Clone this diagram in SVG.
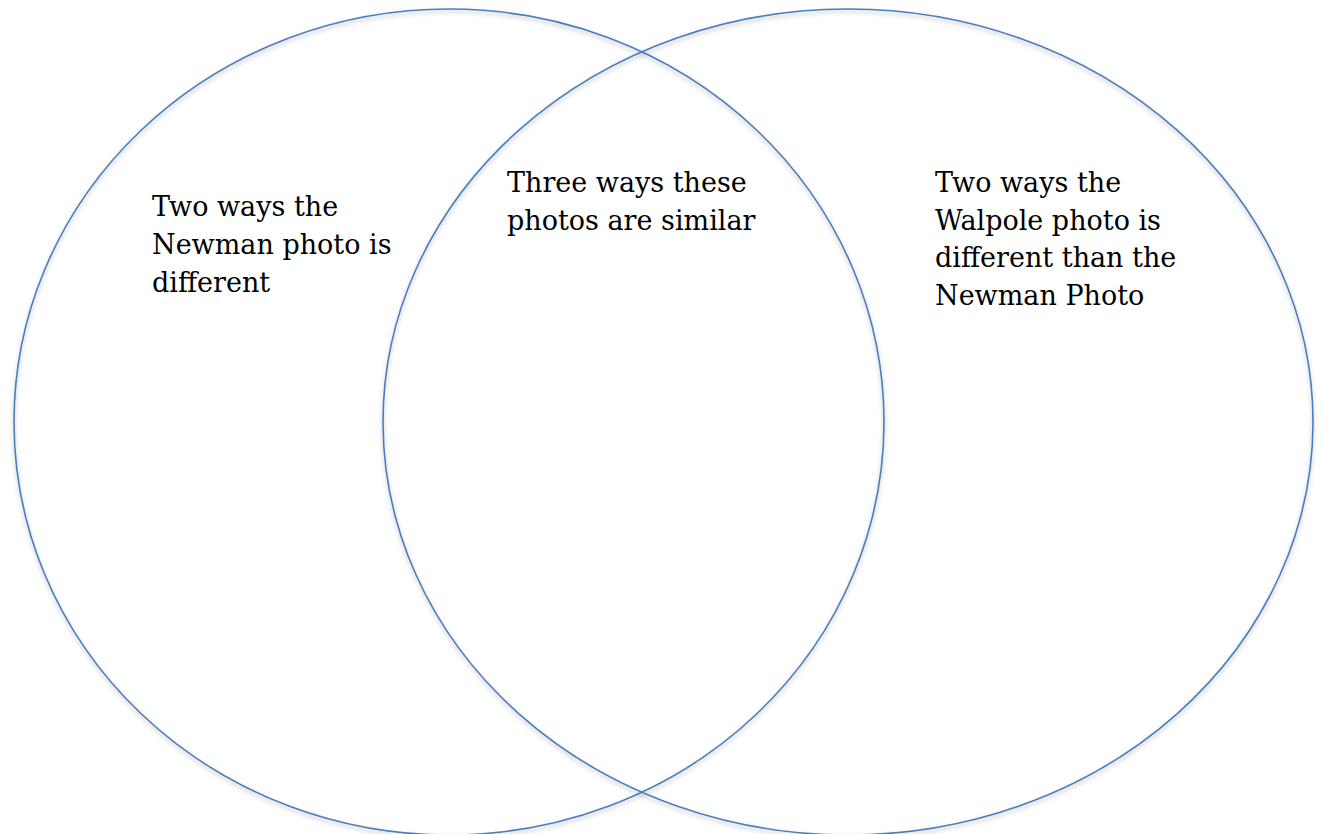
<svg xmlns="http://www.w3.org/2000/svg" width="1324" height="834" viewBox="0 0 1324 834">
<style>
.c{fill:none;stroke:#4a7ebb;stroke-width:1.6}
.t{font-family:"DejaVu Serif","Liberation Serif",serif;font-size:27px;fill:#000}
</style>
<defs>
<filter id="sh" x="-5%" y="-5%" width="110%" height="110%">
<feDropShadow dx="0" dy="2.5" stdDeviation="2" flood-color="#000" flood-opacity="0.28"/>
</filter>
</defs>
<rect width="1324" height="834" fill="#fff"/>
<g id="left-circle"><ellipse class="c" filter="url(#sh)" cx="449" cy="422" rx="435" ry="413"/></g>
<g id="right-circle"><ellipse class="c" filter="url(#sh)" cx="848" cy="422" rx="465" ry="413"/></g>
<g id="left-label"><text class="t" x="152" y="216"><tspan x="152">Two ways the</tspan><tspan x="152" y="254">Newman photo is</tspan><tspan x="152" y="292">different</tspan></text></g>
<g id="middle-label"><text class="t" x="507" y="192"><tspan x="507">Three ways these</tspan><tspan x="507" y="229.5">photos are similar</tspan></text></g>
<g id="right-label"><text class="t" x="935" y="192"><tspan x="935">Two ways the</tspan><tspan x="935" y="229.5">Walpole photo is</tspan><tspan x="935" y="267">different than the</tspan><tspan x="935" y="305">Newman Photo</tspan></text></g>
<g id="connectors"/>
</svg>
